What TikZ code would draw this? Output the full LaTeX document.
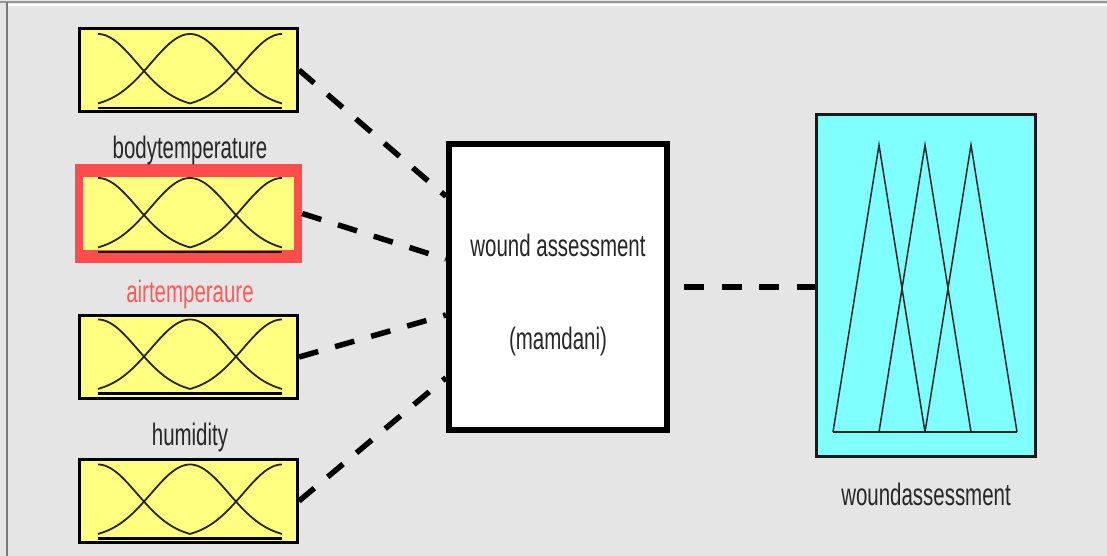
\documentclass[tikz,border=0pt]{standalone}
\usepackage{fontspec}
\newfontfamily\mffont[FakeStretch=0.66]{Liberation Sans}
\definecolor{panelgray}{RGB}{229,229,229}
\definecolor{framegray}{RGB}{150,150,150}
\definecolor{mfyellow}{RGB}{255,255,128}
\definecolor{mfcyan}{RGB}{128,255,255}
\definecolor{selred}{RGB}{255,77,77}
\definecolor{labelred}{RGB}{255,90,90}

\begin{document}
\begin{tikzpicture}[x=1pt,y=-1pt,
    inbox/.style={draw=black,line width=3,fill=mfyellow,minimum width=218,minimum height=83,inner sep=0},
    selbox/.style={fill=selred,minimum width=227,minimum height=99,inner sep=0},
    rulebox/.style={draw=black,line width=6,fill=white,minimum width=218,minimum height=286,inner sep=0},
    outbox/.style={draw=black!90,line width=3,fill=mfcyan,minimum width=219,minimum height=342,inner sep=0},
    mftext/.style={font=\mffont\fontsize{31}{37}\selectfont,text=black!85,inner sep=0},
    mfcurve/.style={line width=1.8,black!85},
    tri/.style={line width=1.5,black!85,line join=miter},
    conn/.style={line width=5.5,dash pattern=on 20pt off 17.5pt}]

    % Panel
    \useasboundingbox (0,0) rectangle (1107,556);
    \fill[panelgray] (0,0) rectangle (1107,556);
    \draw[line width=2,framegray] (0,2.5) -- (1107,2.5);
    \draw[line width=1.5,white] (7.5,4.8) -- (1107,4.8);
    \draw[line width=2,framegray!80!black] (6.5,2.5) -- (6.5,556);

    % Input boxes
    \node[inbox] (bodytemp) at (188.5,70) {};
    \node[selbox] (airtemp) at (188.5,213.5) {};
    \fill[mfyellow] ([shift={(8,13)}]airtemp.north west) rectangle ([shift={(-8,-13)}]airtemp.south east);
    \node[inbox] (humid) at (188.5,357) {};
    \node[inbox] (input4) at (188.5,501) {};

    % Membership functions
    \foreach \yc in {71,215,356.5,501.5} {
        \begin{scope}[shift={(190,\yc)}]
            \draw[mfcurve] plot[domain=-92:0,samples=40,smooth] (\x,{37-74*exp(-((\x+92)^2)/3042)});
            \draw[mfcurve] plot[domain=-92:92,samples=60,smooth] (\x,{37-74*exp(-((\x)^2)/3042)});
            \draw[mfcurve] plot[domain=0:92,samples=40,smooth] (\x,{37-74*exp(-((\x-92)^2)/3042)});
            \draw[line width=2.5] (-92,37) -- (92,37);
        \end{scope}
    }

    % Input labels
    \node[mftext] (bodytemplbl) at (190,150) {bodytemperature};
    \node[mftext,text=labelred] (airtemplbl) at (190,294) {airtemperaure};
    \node[mftext] (humidlbl) at (190,437) {humidity};

    % Rule block
    \node[rulebox] (rules) at (558,287) {};
    \node[mftext] (rulestitle) at (558,245) {wound assessment};
    \node[mftext] (rulestype) at (558,341) {(mamdani)};

    % Output
    \node[outbox] (woundout) at (926,285.5) {};
    \foreach \p in {879,925,971} {
        \draw[tri] ({\p-46},432) -- (\p,145) -- ({\p+46},432);
    }
    \draw[tri] (833,432) -- (1017,432);
    \node[mftext] (woundlbl) at (926,494) {woundassessment};

    % Connectors
    \draw[conn] (bodytemp.east) -- (rules.141);
    \draw[conn] (airtemp.east) -- (rules.166);
    \draw[conn] (humid.east) -- (rules.194);
    \draw[conn] (input4.east) -- (rules.219);
    \draw[conn,dash phase=23.5pt] (rules.east) -- (woundout.west |- rules.east);
\end{tikzpicture}
\end{document}
